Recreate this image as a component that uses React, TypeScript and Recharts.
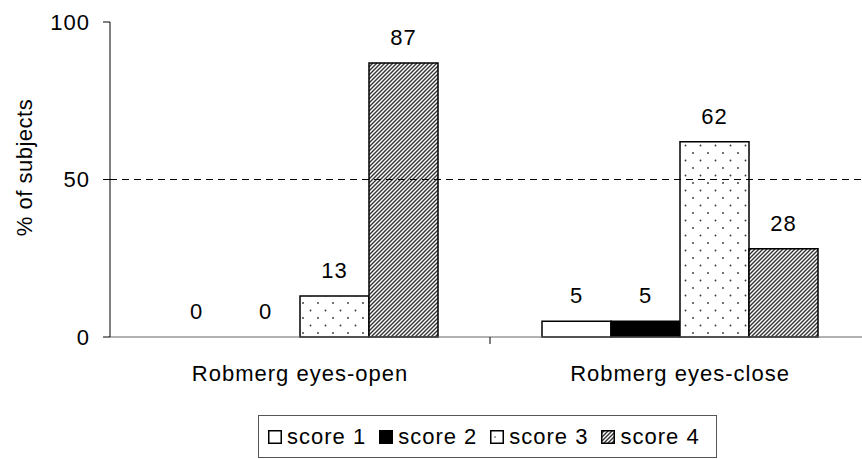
import React from 'react';
import { BarChart, Bar, XAxis, YAxis, ReferenceLine, LabelList, Legend, Cell } from 'recharts';

const categories = ['Robmerg eyes-open', 'Robmerg eyes-close'];
const score1 = [0, 5];
const score2 = [0, 5];
const score3 = [13, 62];
const score4 = [87, 28];
const seriesNames = ['score 1', 'score 2', 'score 3', 'score 4'];
const yTicks = [0, 50, 100];

const data = categories.map((c, i) => ({
  name: c,
  s1: score1[i],
  s2: score2[i],
  s3: score3[i],
  s4: score4[i],
}));

const seriesValues = [score1, score2, score3, score4];
const fills = ['#ffffff', '#000000', 'url(#dots)', 'url(#hatch)'];
const keys = ['s1', 's2', 's3', 's4'];
const FONT = "'Liberation Sans', Arial, sans-serif";
const FS = 22;
const LS = 1;

function Patterns() {
  return (
    <svg width={0} height={0} style={{ position: 'absolute' }}>
      <defs>
        <pattern id="dots" patternUnits="userSpaceOnUse" width={15} height={15}>
          <rect width={15} height={15} fill="#fff" />
          <circle cx={3} cy={3} r={0.9} fill="#333" />
          <circle cx={10.5} cy={10.5} r={0.9} fill="#333" />
        </pattern>
        <pattern id="hatch" patternUnits="userSpaceOnUse" width={4} height={4}>
          <rect width={4} height={4} fill="#fff" />
          <path d="M0,4 L4,0 M-1,1 L1,-1 M3,5 L5,3" stroke="#333" strokeWidth={1.4} />
        </pattern>
        <pattern id="dotsSmall" patternUnits="userSpaceOnUse" width={13} height={13}>
          <rect width={13} height={13} fill="#fff" />
          <circle cx={5} cy={7} r={0.8} fill="#333" />
        </pattern>
      </defs>
    </svg>
  );
}

const legendFills = ['#ffffff', '#000000', 'url(#dotsSmall)', 'url(#hatch)'];

function LegendBox() {
  return (
    <div
      style={{
        border: '1px solid #555',
        padding: '8px 16px 8px 9px',
        display: 'flex',
        alignItems: 'center',
        fontFamily: FONT,
        fontSize: FS,
        letterSpacing: LS,
        lineHeight: '25px',
        color: '#000',
        background: '#fff',
        whiteSpace: 'nowrap',
      }}
    >
      {seriesNames.map((n, i) => (
        <span key={n} style={{ display: 'inline-flex', alignItems: 'center', marginRight: i < 3 ? 13 : 0 }}>
          <svg width={14} height={14} style={{ marginRight: 5 }}>
            <rect x={0.75} y={0.75} width={12.5} height={12.5} fill={legendFills[i]} stroke="#000" strokeWidth={1.5} />
          </svg>
          {n}
        </span>
      ))}
    </div>
  );
}

function CatTick(props: any) {
  const { x, y, payload, index } = props;
  const half = payload && typeof payload.offset === 'number' ? payload.offset : 0;
  return (
    <g>
      <text
        x={x}
        y={y}
        dy="0.71em"
        textAnchor="middle"
        fill="#000"
        fontSize={FS}
        fontFamily={FONT}
        style={{ letterSpacing: LS }}
      >
        {payload.value}
      </text>
      {index === 0 && half > 0 ? (
        <line x1={x + half} x2={x + half} y1={y - 28} y2={y - 21} stroke="#000" strokeWidth={1} />
      ) : null}
    </g>
  );
}

function ValueLabel(props: any) {
  const { x, y, width, value } = props;
  if (value === undefined || value === null) return null;
  return (
    <text
      x={Number(x) + Number(width) / 2}
      y={Number(y) - 18}
      textAnchor="middle"
      fill="#000"
      fontSize={FS}
      fontFamily={FONT}
      style={{ letterSpacing: LS }}
    >
      {String(value)}
    </text>
  );
}

const tickStyle = { fill: '#000', fontSize: FS, fontFamily: FONT, letterSpacing: LS };

export default function App() {
  return (
    <div style={{ position: 'absolute', left: 0, top: 0, width: 862, height: 459, overflow: 'hidden', background: '#fff' }}>
      <Patterns />
      <BarChart
        width={870}
        height={459}
        data={data}
        margin={{ top: 22, right: 0, left: 0, bottom: 39 }}
        barCategoryGap={52}
        barGap={0}
        style={{ fontFamily: FONT }}
      >
        <XAxis
          xAxisId="cat"
          dataKey="name"
          axisLine={{ stroke: '#666', strokeWidth: 1 }}
          tickLine={false}
          tickSize={0}
          tickMargin={28}
          tick={<CatTick />}
          height={40}
        />
        <YAxis
          domain={[0, 100]}
          ticks={yTicks}
          width={110}
          axisLine={{ stroke: '#000' }}
          tickLine={{ stroke: '#000' }}
          tickSize={7}
          tickMargin={13}
          tick={tickStyle}
          label={{ value: '% of subjects', angle: -90, position: 'center', dx: -31, dy: -12, style: { fill: '#000', fontSize: FS, fontFamily: FONT, letterSpacing: 0.5 } }}
        />
        <ReferenceLine xAxisId="cat" y={50} stroke="#000" strokeDasharray="7 5" />
        {keys.map((k, i) => (
          <Bar
            key={k}
            xAxisId="cat"
            dataKey={k}
            name={seriesNames[i]}
            fill={fills[i]}
            stroke="#000"
            strokeWidth={1.5}
            minPointSize={(v: any) => (v === 0 ? 0.01 : 0)}
            isAnimationActive={false}
          >
            {seriesValues[i].map((v, j) => (
              <Cell key={j} stroke={v === 0 ? 'none' : '#000'} fill={v === 0 ? 'none' : fills[i]} />
            ))}
            <LabelList dataKey={k} content={<ValueLabel />} />
          </Bar>
        ))}
        <Legend
          verticalAlign="bottom"
          content={() => <LegendBox />}
          wrapperStyle={{ left: 258, top: 415, width: 'auto', bottom: 'auto' }}
        />
      </BarChart>
    </div>
  );
}
